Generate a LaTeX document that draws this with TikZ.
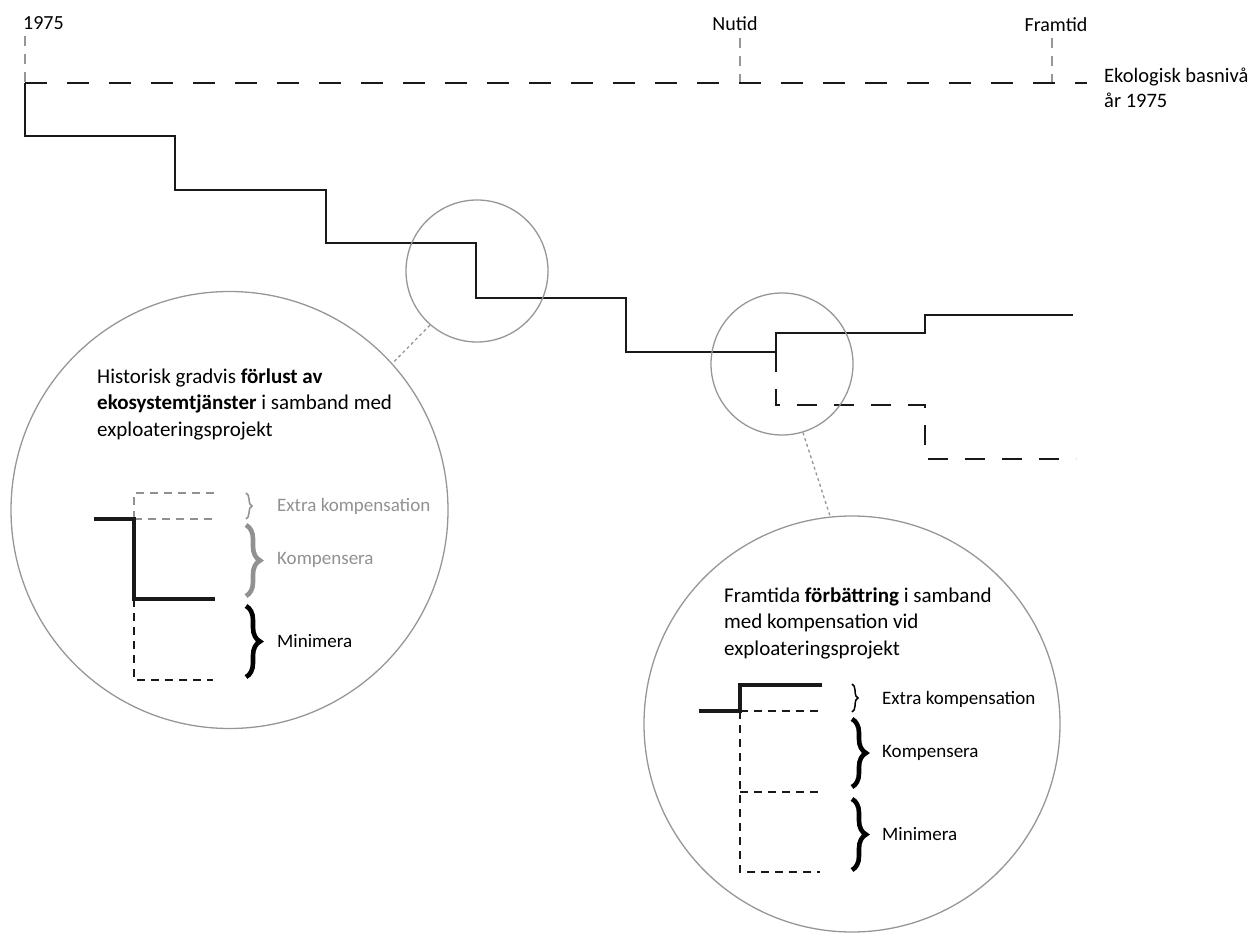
\documentclass[tikz,border=0pt]{standalone}
\usepackage{fontspec}
\setmainfont{Carlito}
\usetikzlibrary{decorations.pathreplacing}

\definecolor{ink}{RGB}{25,25,25}
\definecolor{lensgray}{RGB}{150,150,150}
\definecolor{fadegray}{RGB}{145,145,145}

\begin{document}
\begin{tikzpicture}[x=1pt, y=-1pt,
  stair/.style={line width=2pt, ink},
  stairdash/.style={stair, dash pattern=on 20pt off 17pt},
  basedash/.style={stair, dash pattern=on 22pt off 20pt},
  tick/.style={lensgray, line width=1.3pt, dash pattern=on 10pt off 8pt},
  lens/.style={circle, draw=lensgray, line width=1.3pt, inner sep=0pt},
  link/.style={lensgray, line width=1.3pt, dash pattern=on 3pt off 3pt},
  mini/.style={line width=3.2pt, ink},
  minidash/.style={line width=1.5pt, ink, dash pattern=on 8pt off 6pt},
  bigbrace/.style={decorate, decoration={brace, amplitude=14pt}, line width=4.6pt},
  smallbrace/.style={decorate, decoration={brace, amplitude=6pt}, line width=1.5pt},
  year/.style={inner sep=0pt, font=\fontsize{20}{25}\selectfont},
  blurb/.style={inner sep=0pt, anchor=west, align=left, font=\fontsize{21}{26.5}\selectfont},
  tag/.style={inner sep=0pt, anchor=west, font=\fontsize{19}{23}\selectfont}
]
  \useasboundingbox (0,0) rectangle (1256,933);

  \coordinate (b1975) at (25,83); % start of base level
  \coordinate (bnow) at (740,83); % present on base level
  \coordinate (bfut) at (1052,83); % future on base level
  \coordinate (bend) at (1087,83); % end of base level

  % time labels
  \node[year, anchor=west] (t1975) at (23,23) {1975};
  \node[year] (tnow) at (735,24) {Nutid};
  \node[year] (tfut) at (1056,25) {Framtid};
  \node[year, anchor=west, align=left, font=\fontsize{20.5}{25}\selectfont] (tbase) at (1104,88) {Ekologisk basnivå\\år 1975};

  \draw[tick] (25,36) -- (b1975);
  \draw[tick] (740,38) -- (bnow);
  \draw[tick] (1052,38) -- (bfut);

  % base level and stepwise loss
  \draw[basedash] (b1975) -- (bend);
  \draw[stair] (b1975) -- (25,136) -- (175,136) -- (175,190) -- (326,190)
    -- (326,243) -- (476,243) -- (476,298) -- (626,298) -- (626,352) -- (776,352) coordinate (now);
  \draw[stair] (now) -- (776,333) -- (925,333) -- (925,315) -- (1073,315);
  \draw[stairdash] (now) -- (776,405) -- (925,405) -- (925,459) -- (1076,459);

  % magnifying circles
  \node[lens, minimum size=142pt] (spotA) at (477,271) {};
  \node[lens, minimum size=142pt] (spotB) at (782,364) {};
  \node[lens, minimum size=437pt] (zoomA) at (229.5,510) {};
  \node[lens, minimum size=416pt] (zoomB) at (852,724) {};
  \draw[link] (spotA.229) -- (zoomA.42);
  \draw[link] (spotB.-73) -- (zoomB.96);

  % historic loss
  \node[blurb] (histtext) at (97,404) {Historisk gradvis \textbf{förlust av}\\
    \textbf{ekosystemtjänster} i samband med\\exploateringsprojekt};
  \draw[minidash, fadegray] (134,519) -- (134,493) -- (215,493);
  \draw[minidash, fadegray] (134,519) -- (215,519);
  \draw[minidash] (134,599) -- (134,680) -- (213,680);
  \draw[mini] (94,519) -- (134,519) -- (134,599) -- (215,599);
  \draw[smallbrace, fadegray] (246,493) -- (246,519);
  \draw[bigbrace, fadegray] (246,525) -- (246,596);
  \draw[bigbrace] (246,606) -- (246,677);
  \node[tag, fadegray] (histextra) at (277,506) {Extra kompensation};
  \node[tag, fadegray] (histcomp) at (277,560) {Kompensera};
  \node[tag] (histmin) at (277,641) {Minimera};

  % future gain
  \node[blurb] (futtext) at (724,623) {Framtida \textbf{förbättring} i samband\\
    med kompensation vid\\exploateringsprojekt};
  \draw[minidash] (740,711) -- (820,711);
  \draw[minidash] (740,711) -- (740,872) -- (820,872);
  \draw[minidash] (740,792) -- (820,792);
  \draw[mini] (699,711) -- (740,711) -- (740,685) -- (822,685);
  \draw[smallbrace] (852,684) -- (852,712);
  \draw[bigbrace] (852,719) -- (852,787);
  \draw[bigbrace] (852,799) -- (852,870);
  \node[tag] (futextra) at (882,699) {Extra kompensation};
  \node[tag] (futcomp) at (882,753) {Kompensera};
  \node[tag] (futmin) at (882,834) {Minimera};
\end{tikzpicture}
\end{document}
